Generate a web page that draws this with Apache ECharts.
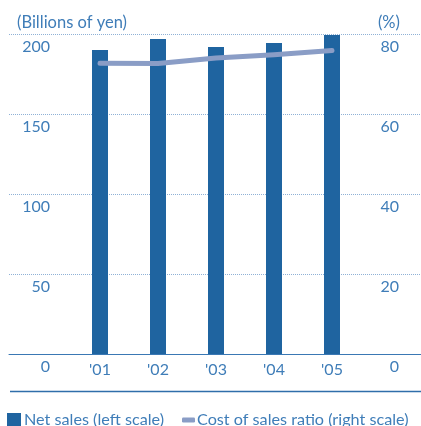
<!DOCTYPE html>
<html>
<head>
<meta charset="utf-8">
<script src="https://cdn.jsdelivr.net/npm/echarts@6/dist/echarts.min.js"></script>
<style>
  html, body { margin: 0; padding: 0; background: #fff; }
  #chart { width: 421px; height: 426px; }
</style>
</head>
<body>
<div id="chart"></div>
<script>
// Fiscal years on the category axis
const years = ["'01", "'02", "'03", "'04", "'05"];
// Net sales, billions of yen (left scale)
const netSales = [190, 196.9, 191.9, 194.4, 199.4];
// Cost of sales ratio, % (right scale)
const costRatio = [72.7, 72.6, 74.0, 74.8, 75.9];
// Tick settings for both value scales
const leftTicks = { min: 0, max: 200, interval: 50 };
const rightTicks = { min: 0, max: 80, interval: 20 };

const blue = '#1f64a0';
const textBlue = '#3f7db8';
const lineBlue = '#8a9dc6';
const font = 'Lato, "Noto Sans", sans-serif';

const chart = echarts.init(document.getElementById('chart'), null, { renderer: 'canvas' });

chart.setOption({
  animation: false,
  title: [
    { text: '(Billions of yen)', left: 17, top: 14, padding: 0,
      textStyle: { color: textBlue, fontFamily: font, fontSize: 16.5, fontWeight: 'normal' } },
    { text: '(%)', right: 21, top: 14, padding: 0,
      textStyle: { color: textBlue, fontFamily: font, fontSize: 16.5, fontWeight: 'normal' } }
  ],
  legend: [
    { data: [{ name: 'Net sales (left scale)', icon: 'rect' }],
      left: 7, top: 412, padding: 0, itemWidth: 14, itemHeight: 14, itemGap: 4,
      textStyle: { color: textBlue, fontFamily: font, fontSize: 16.2, padding: [0, 0, 0, -2] } },
    { data: [{ name: 'Cost of sales ratio (right scale)', icon: 'roundRect' }],
      left: 182, top: 412, padding: 0, itemWidth: 13, itemHeight: 5,
      textStyle: { color: textBlue, fontFamily: font, fontSize: 16.2, padding: [0, 0, 0, -3] } }
  ],
  grid: [
    { left: 9, right: 0, top: 34, bottom: 72 },
    { left: 71, right: 60, top: 34, bottom: 72 }
  ],
  xAxis: [
    { type: 'category', gridIndex: 0, data: [''],
      axisLine: { lineStyle: { color: '#3a78b4', width: 1 } },
      axisTick: { show: false }, axisLabel: { show: false } },
    { type: 'category', gridIndex: 1, data: years,
      axisLine: { show: false }, axisTick: { show: false },
      axisLabel: { color: textBlue, fontFamily: font, fontSize: 16, margin: 8 } }
  ],
  yAxis: [
    { type: 'value', gridIndex: 0, position: 'left', ...leftTicks,
      axisLine: { show: false }, axisTick: { show: false },
      splitLine: { show: true, lineStyle: { color: '#8fb1d6', type: [1, 1], width: 1 } },
      axisLabel: { inside: true, align: 'right', margin: 41, verticalAlign: 'top',
        padding: [5, 0, 0, 0], color: textBlue, fontFamily: font, fontSize: 16 } },
    { type: 'value', gridIndex: 0, position: 'right', ...rightTicks,
      axisLine: { show: false }, axisTick: { show: false }, splitLine: { show: false },
      axisLabel: { inside: true, align: 'right', margin: 22, verticalAlign: 'top',
        padding: [5, 0, 0, 0], color: textBlue, fontFamily: font, fontSize: 16 } },
    { type: 'value', gridIndex: 1, ...leftTicks, show: false },
    { type: 'value', gridIndex: 1, ...rightTicks, show: false }
  ],
  graphic: [
    { type: 'line', shape: { x1: 10, y1: 391.5, x2: 421, y2: 391.5 },
      style: { stroke: '#2f6eaa', lineWidth: 1.5 } }
  ],
  series: [
    { name: 'Net sales (left scale)', type: 'bar', xAxisIndex: 1, yAxisIndex: 2,
      data: netSales, barWidth: 16, itemStyle: { color: blue } },
    { name: 'Cost of sales ratio (right scale)', type: 'line', xAxisIndex: 1, yAxisIndex: 3,
      data: costRatio, symbol: 'none', itemStyle: { color: lineBlue },
      lineStyle: { color: lineBlue, width: 5, cap: 'round', join: 'round' } }
  ]
});
</script>
</body>
</html>
